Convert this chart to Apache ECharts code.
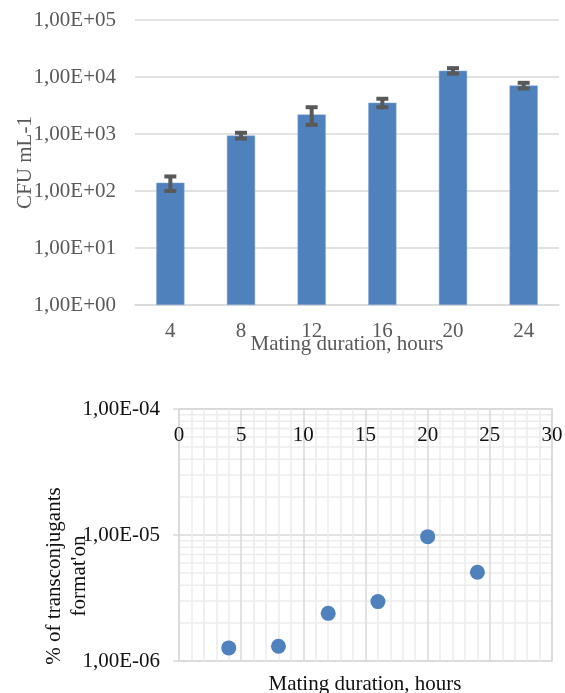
<!DOCTYPE html>
<html>
<head>
<meta charset="utf-8">
<script src="https://cdn.jsdelivr.net/npm/echarts@6.0.0/dist/echarts.min.js"></script>
<style>html,body{margin:0;padding:0;background:#fff;}#c{width:565px;height:693px;}</style>
</head>
<body>
<div id="c"></div>
<script>
// Top chart data
const categories = ['4', '8', '12', '16', '20', '24'];
const cfuValues = [140, 940, 2200, 3550, 12900, 7100];
const cfuErrors = [40, 110, 750, 600, 1400, 800];
// Bottom chart data
const matingHours = [4, 8, 12, 16, 20, 24];
const transconjPercent = [1.27e-6, 1.31e-6, 2.39e-6, 2.96e-6, 9.7e-6, 5.06e-6];

const FONT = '"Liberation Serif", "Times New Roman", serif';
const FS = 21;
const GRAY = '#595959';

function sci(v) {
  const e = Math.round(Math.log10(v));
  return '1,00E' + (e < 0 ? '-' : '+') + String(Math.abs(e)).padStart(2, '0');
}

// minor log gridline positions for bottom chart (2..9 x 10^d)
const minorLogLines = [];
for (let d = -6; d < -4; d++) {
  for (let k = 2; k <= 9; k++) minorLogLines.push(k * Math.pow(10, d));
}

const chart = echarts.init(document.getElementById('c'), null, { renderer: 'canvas' });
chart.setOption({
  animation: false,
  backgroundColor: '#fff',
  textStyle: { fontFamily: FONT },
  grid: [
    { left: 135, top: 20, width: 424, height: 285, containLabel: false, outerBoundsMode: 'none' },
    { left: 179, top: 409, width: 373, height: 252, containLabel: false, outerBoundsMode: 'none',
      show: true, borderColor: '#d9d9d9', borderWidth: 1.5 }
  ],
  xAxis: [
    {
      gridIndex: 0, type: 'category', data: categories,
      axisLine: { show: true, lineStyle: { color: '#d9d9d9', width: 1.5 } },
      axisTick: { show: false },
      axisLabel: { color: GRAY, fontFamily: FONT, fontSize: FS, margin: 16 },
      name: 'Mating duration, hours', nameLocation: 'middle', nameGap: 29, nameMoveOverlap: false,
      nameTextStyle: { color: GRAY, fontFamily: FONT, fontSize: FS }
    },
    {
      gridIndex: 1, type: 'value', min: 0, max: 30, interval: 5, position: 'top',
      axisLine: { show: false },
      axisTick: { show: false },
      axisLabel: { inside: true, color: '#111', fontFamily: FONT, fontSize: FS, margin: 16 },
      splitLine: { show: true, lineStyle: { color: '#d9d9d9', width: 1.5 } },
      minorTick: { show: false, splitNumber: 5 },
      minorSplitLine: { show: true, lineStyle: { color: '#ececec', width: 1.5 } }
    }
  ],
  yAxis: [
    {
      gridIndex: 0, type: 'log', logBase: 10, min: 1, max: 1e5,
      axisLine: { show: false }, axisTick: { show: false },
      axisLabel: { color: GRAY, fontFamily: FONT, fontSize: FS, margin: 19, formatter: sci },
      splitLine: { show: true, lineStyle: { color: '#d9d9d9', width: 1.5 } },
      name: 'CFU mL-1', nameLocation: 'middle', nameGap: 99, nameMoveOverlap: false,
      nameTextStyle: { color: GRAY, fontFamily: FONT, fontSize: FS }
    },
    {
      gridIndex: 1, type: 'log', logBase: 10, min: 1e-6, max: 1e-4,
      axisLine: { show: false },
      axisTick: { show: true, length: 6, lineStyle: { color: '#d9d9d9', width: 1.5 } },
      axisLabel: { color: '#111', fontFamily: FONT, fontSize: FS, margin: 19, formatter: sci },
      splitLine: { show: true, lineStyle: { color: '#d9d9d9', width: 1.5 } }
    }
  ],
  graphic: [
    {
      type: 'text', x: 365, y: 684,
      style: {
        text: 'Mating duration, hours', font: FS + 'px ' + FONT, fill: '#111',
        align: 'center', verticalAlign: 'middle'
      }
    },
    {
      type: 'text', x: 67, y: 576, rotation: Math.PI / 2,
      style: {
        text: '% of transconjugants\nformat\'on', font: FS + 'px ' + FONT, fill: '#111',
        align: 'center', verticalAlign: 'middle', lineHeight: 25
      }
    }
  ],
  series: [
    {
      type: 'bar', xAxisIndex: 0, yAxisIndex: 0, data: cfuValues, barWidth: '40%',
      itemStyle: { color: '#4f81bd', borderColor: '#8fb0d8', borderWidth: 0.5 }
    },
    {
      type: 'custom', xAxisIndex: 0, yAxisIndex: 0,
      data: cfuValues.map((v, i) => [i, v - cfuErrors[i], v + cfuErrors[i]]),
      renderItem: function (params, api) {
        const lo = api.coord([api.value(0), api.value(1)]);
        const hi = api.coord([api.value(0), api.value(2)]);
        const hw = 6;
        const st = { stroke: GRAY, lineWidth: 4 };
        return {
          type: 'group', children: [
            { type: 'line', shape: { x1: lo[0], y1: lo[1], x2: hi[0], y2: hi[1] }, style: st },
            { type: 'line', shape: { x1: lo[0] - hw, y1: lo[1], x2: lo[0] + hw, y2: lo[1] }, style: st },
            { type: 'line', shape: { x1: hi[0] - hw, y1: hi[1], x2: hi[0] + hw, y2: hi[1] }, style: st }
          ]
        };
      },
      z: 5
    },
    {
      // minor logarithmic gridlines (axis decoration)
      type: 'custom', xAxisIndex: 1, yAxisIndex: 1, silent: true, z: -1,
      data: minorLogLines.map(v => [0, v]),
      renderItem: function (params, api) {
        const p = api.coord([0, api.value(1)]);
        const cs = params.coordSys;
        return {
          type: 'line', silent: true,
          shape: { x1: cs.x, y1: p[1], x2: cs.x + cs.width, y2: p[1] },
          style: { stroke: '#ececec', lineWidth: 1.5 }
        };
      }
    },
    {
      type: 'scatter', xAxisIndex: 1, yAxisIndex: 1,
      data: matingHours.map((h, i) => [h, transconjPercent[i]]),
      symbolSize: 15, itemStyle: { color: '#4f81bd', opacity: 1 },
      z: 5
    }
  ]
});
</script>
</body>
</html>
